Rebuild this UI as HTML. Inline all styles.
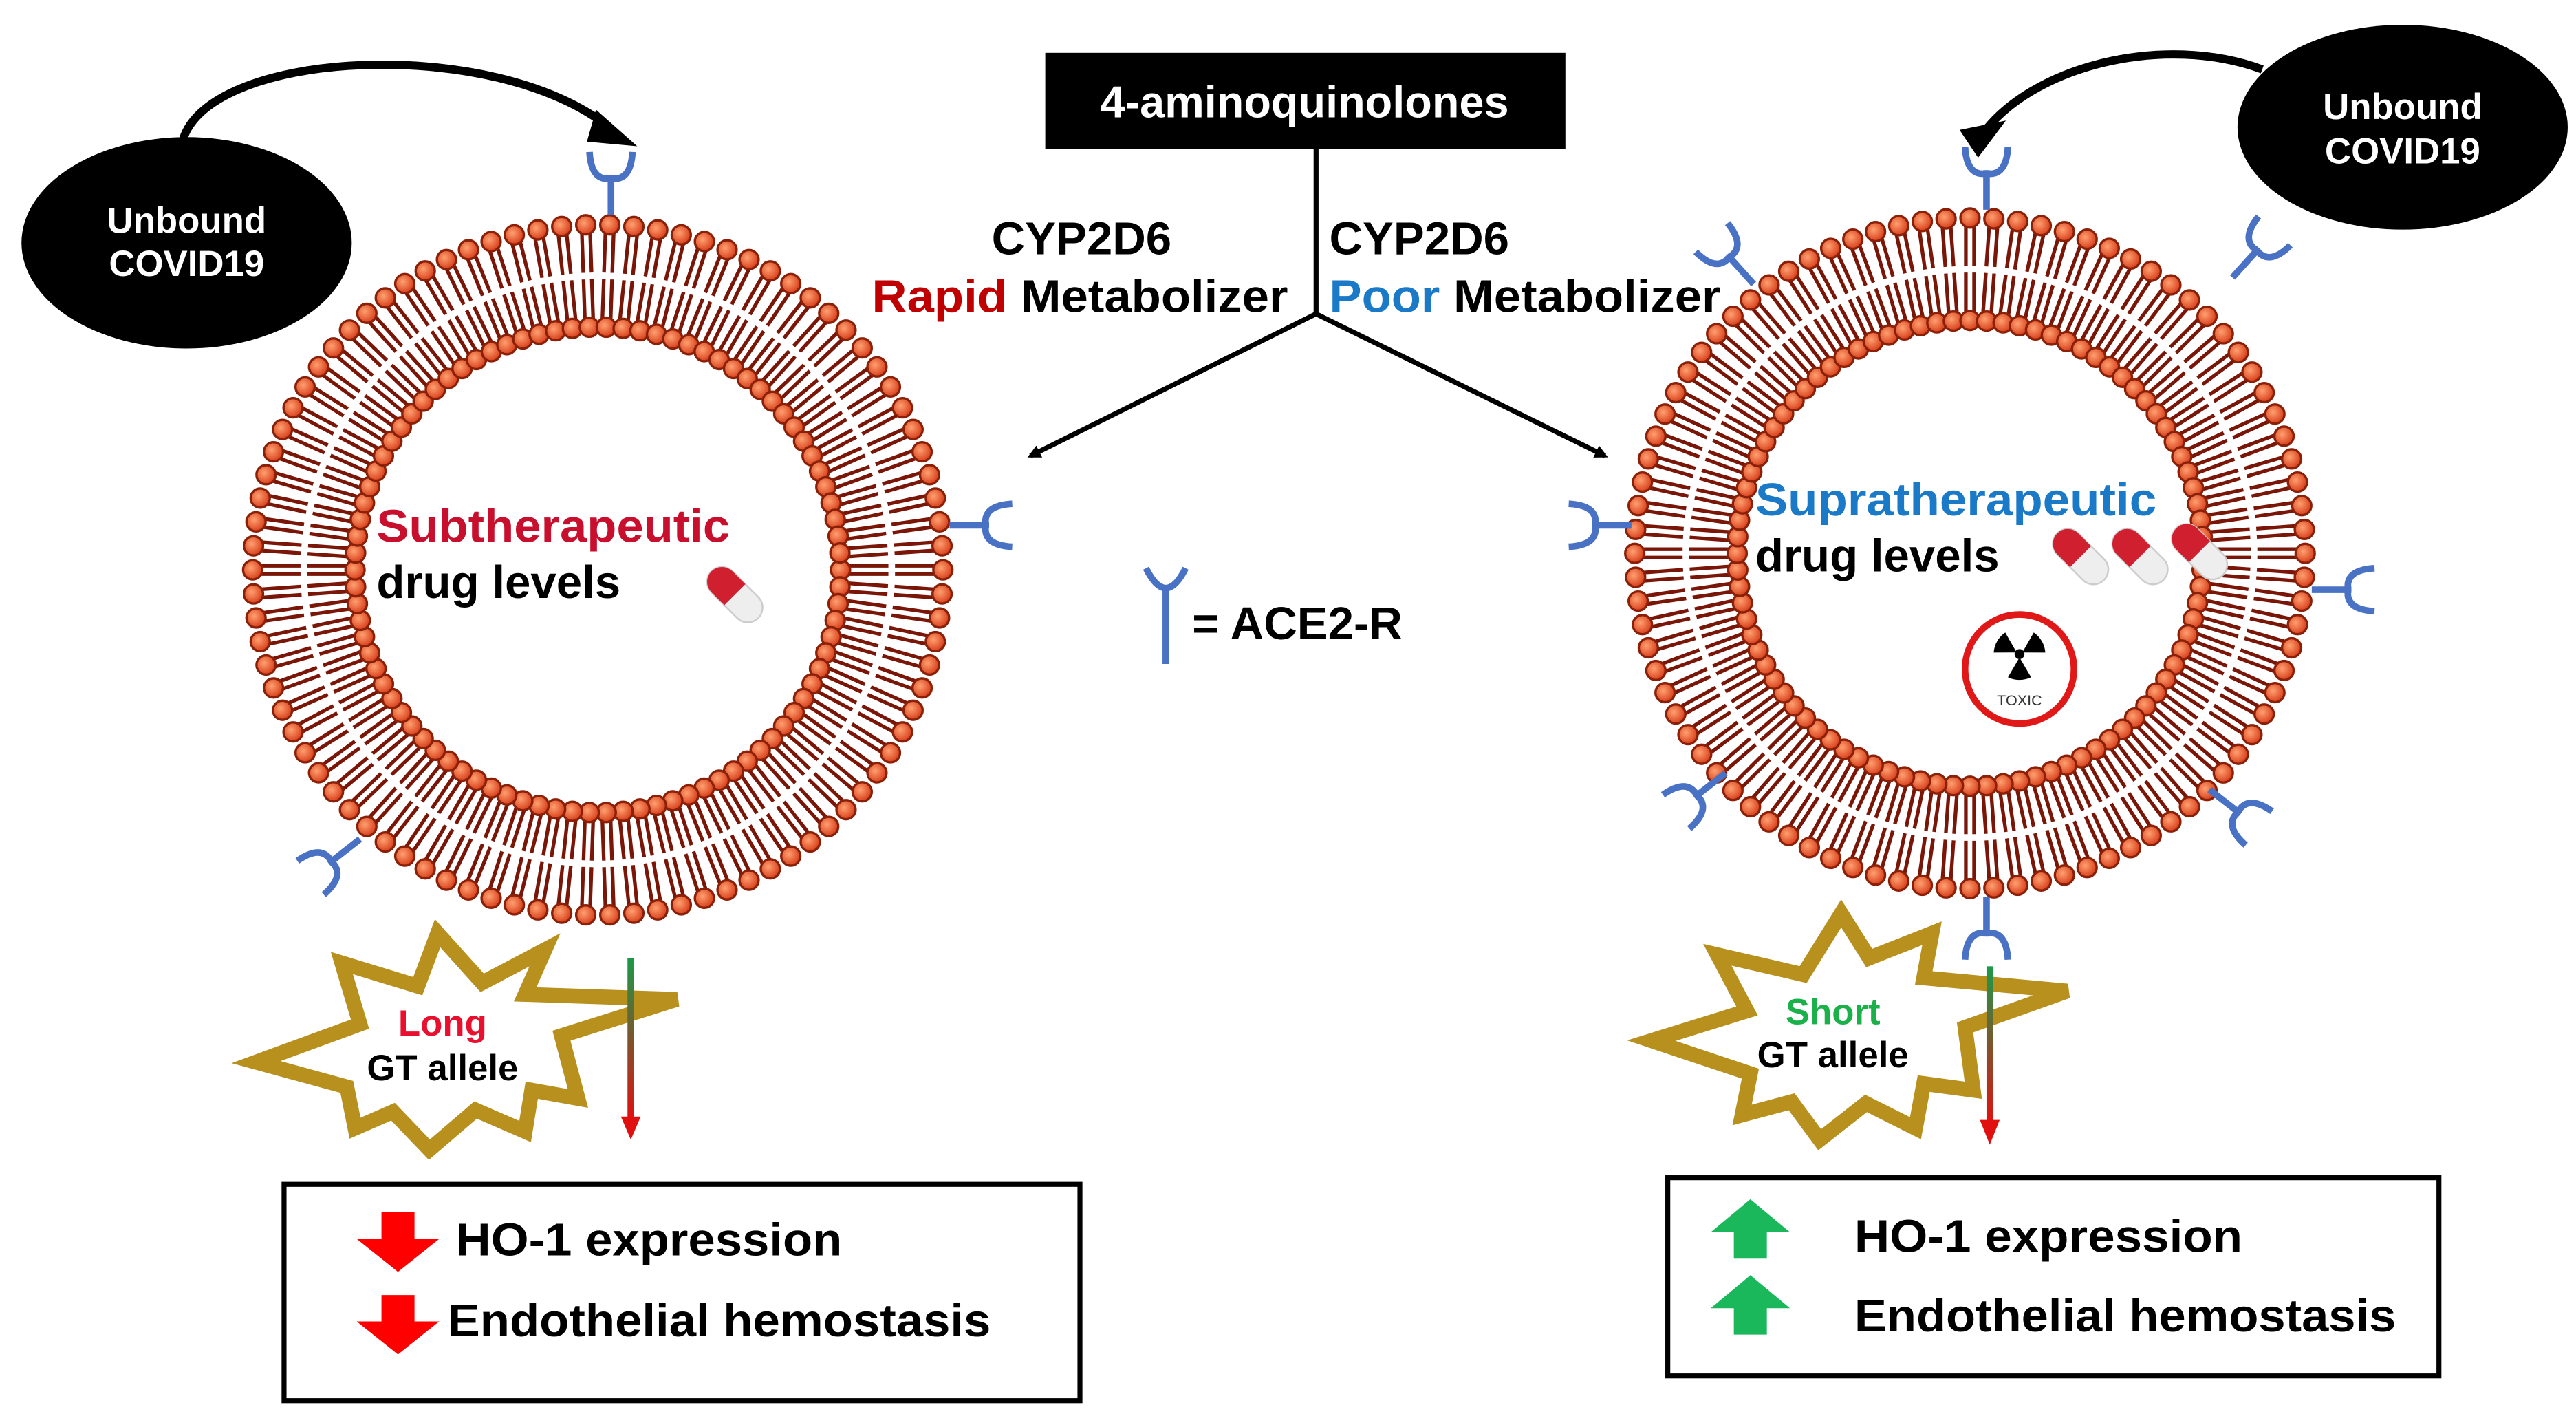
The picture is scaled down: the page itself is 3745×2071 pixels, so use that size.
<!DOCTYPE html>
<html><head><meta charset="utf-8"><style>
html,body{margin:0;padding:0;background:#fff}
svg{display:block}
text{font-family:"Liberation Sans",Arial,sans-serif;font-weight:bold}
</style></head><body>
<svg id="s" width="3745" height="2071" viewBox="0 0 1560 862.7" xmlns="http://www.w3.org/2000/svg">
<defs>
<marker id="ah" markerWidth="8" markerHeight="8" refX="6" refY="4" orient="auto" markerUnits="userSpaceOnUse"><path d="M0,0 L8,4 L0,8 Z" fill="#000"/></marker>
<linearGradient id="gr" x1="0" y1="0" x2="0" y2="1"><stop offset="0" stop-color="#1a9a4a"/><stop offset="1" stop-color="#e01010"/></linearGradient>
<radialGradient id="hd" cx="0.4" cy="0.4" r="0.6"><stop offset="0" stop-color="#ffa070"/><stop offset="1" stop-color="#d8401c"/></radialGradient>
</defs>
<g id="mem"></g>
<ellipse cx="113" cy="147" rx="100" ry="64" fill="#000"/>
<text x="113" y="141" font-size="22" fill="#fff" text-anchor="middle">Unbound</text>
<text x="113" y="167" font-size="22" fill="#fff" text-anchor="middle">COVID19</text>
<ellipse cx="1455" cy="77" rx="100" ry="62" fill="#000"/>
<text x="1455" y="72" font-size="22" fill="#fff" text-anchor="middle">Unbound</text>
<text x="1455" y="99" font-size="22" fill="#fff" text-anchor="middle">COVID19</text>
<path d="M110,88 C120,30 300,20 370,78" fill="none" stroke="#000" stroke-width="5"/>
<path d="M362,70 L380,86 L358,84 Z" fill="#000" stroke="#000" stroke-width="4"/>
<path d="M1370,42 C1310,20 1230,40 1200,82" fill="none" stroke="#000" stroke-width="5"/>
<path d="M1190,80 L1198,92 L1210,76 Z" fill="#000" stroke="#000" stroke-width="4"/>
<rect x="633" y="32" width="315" height="58" fill="#000"/>
<text x="790" y="71" font-size="27" fill="#fff" text-anchor="middle">4-aminoquinolones</text>
<line x1="797" y1="90" x2="797" y2="190" stroke="#000" stroke-width="3"/>
<line x1="797" y1="190" x2="624" y2="276" stroke="#000" stroke-width="3" marker-end="url(#ah)"/>
<line x1="797" y1="190" x2="972" y2="276" stroke="#000" stroke-width="3" marker-end="url(#ah)"/>
<text x="655" y="154" font-size="28" fill="#000" text-anchor="middle">CYP2D6</text>
<text x="528" y="189" font-size="28" fill="#c00000" textLength="252" lengthAdjust="spacingAndGlyphs">Rapid <tspan fill="#000">Metabolizer</tspan></text>
<text x="805" y="154" font-size="28" fill="#000">CYP2D6</text>
<text x="805" y="189" font-size="28" fill="#1a7ac8" textLength="237" lengthAdjust="spacingAndGlyphs">Poor <tspan fill="#000">Metabolizer</tspan></text>
<g stroke="#4a72c4" stroke-width="4" fill="none"><line x1="706" y1="356" x2="706" y2="402"/><path d="M694,344 Q706,368 718,344"/></g>
<text x="722" y="387" font-size="28" fill="#000">= ACE2-R</text>
<text x="228" y="328" font-size="28" fill="#c8102e" textLength="214" lengthAdjust="spacingAndGlyphs">Subtherapeutic</text>
<text x="228" y="362" font-size="28" fill="#000">drug levels</text>
<text x="1063" y="312" font-size="28" fill="#1a7ac8" textLength="243" lengthAdjust="spacingAndGlyphs">Supratherapeutic</text>
<text x="1063" y="346" font-size="28" fill="#000">drug levels</text>
<g id="pills"></g>
<circle cx="1223" cy="405" r="33" fill="#fff" stroke="#e01818" stroke-width="4"/>
<g fill="#000" transform="translate(1223,396)">
<circle r="3"/>
<path d="M0,-2 L-7,-14 A16,16 0 0 1 7,-14 Z" transform="rotate(60)"/>
<path d="M0,-2 L-7,-14 A16,16 0 0 1 7,-14 Z" transform="rotate(180)"/>
<path d="M0,-2 L-7,-14 A16,16 0 0 1 7,-14 Z" transform="rotate(-60)"/>
</g>
<text x="1223" y="427" font-size="9" fill="#333" text-anchor="middle" style="font-weight:normal">TOXIC</text>
<g id="stars"></g>
<text x="268" y="627" font-size="22" fill="#e8102e" text-anchor="middle">Long</text>
<text x="268" y="654" font-size="22" fill="#000" text-anchor="middle">GT allele</text>
<text x="1110" y="620" font-size="22" fill="#1ab04a" text-anchor="middle">Short</text>
<text x="1110" y="646" font-size="22" fill="#000" text-anchor="middle">GT allele</text>
<rect x="380" y="580" width="4" height="98" fill="url(#gr)"/>
<path d="M376,676 L388,676 L382,690 Z" fill="#e01010"/>
<rect x="1203" y="585" width="4" height="95" fill="url(#gr)"/>
<path d="M1199,678 L1211,678 L1205,693 Z" fill="#e01010"/>
<rect x="172" y="717" width="482" height="131" fill="#fff" stroke="#000" stroke-width="3"/>
<path d="M231,734 L251,734 L251,750 L266,750 L241,770 L216,750 L231,750 Z" fill="#f00"/>
<path d="M231,784 L251,784 L251,800 L266,800 L241,820 L216,800 L231,800 Z" fill="#f00"/>
<text x="276" y="760" font-size="28" fill="#000" textLength="234" lengthAdjust="spacingAndGlyphs">HO-1 expression</text>
<text x="271" y="809" font-size="28" fill="#000" textLength="329" lengthAdjust="spacingAndGlyphs">Endothelial hemostasis</text>
<rect x="1010" y="713" width="467" height="120" fill="#fff" stroke="#000" stroke-width="3"/>
<path d="M1050,762 L1070,762 L1070,746 L1084,746 L1060,726 L1036,746 L1050,746 Z" fill="#1ab85a"/>
<path d="M1050,808 L1070,808 L1070,792 L1084,792 L1060,772 L1036,792 L1050,792 Z" fill="#1ab85a"/>
<text x="1123" y="758" font-size="28" fill="#000" textLength="235" lengthAdjust="spacingAndGlyphs">HO-1 expression</text>
<text x="1123" y="806" font-size="28" fill="#000" textLength="328" lengthAdjust="spacingAndGlyphs">Endothelial hemostasis</text>
</svg>
<script>
var NS="http://www.w3.org/2000/svg";
function el(p,t,a){var e=document.createElementNS(NS,t);for(var k in a)e.setAttribute(k,a[k]);p.appendChild(e);return e;}
var mem=document.getElementById('mem');
function membrane(cx,cy,R,N){
  var g=el(mem,'g',{});
  for(var i=0;i<N;i++){
    var a=2*Math.PI*i/N, c=Math.cos(a), s=Math.sin(a), px=-s, py=c;
    [[R-6,R-35],[R-68,R-39]].forEach(function(r){
      var hx=cx+c*r[0], hy=cy+s*r[0], tx=cx+c*r[1], ty=cy+s*r[1];
      var d=2.5;
      el(g,'line',{x1:hx+px*d,y1:hy+py*d,x2:tx+px*d,y2:ty+py*d,stroke:'#7a1608','stroke-width':2.2});
      el(g,'line',{x1:hx-px*d,y1:hy-py*d,x2:tx-px*d,y2:ty-py*d,stroke:'#7a1608','stroke-width':2.2});
      el(g,'circle',{cx:hx,cy:hy,r:5.8,fill:'url(#hd)',stroke:'#8a2008','stroke-width':1.4});
    });
  }
}
membrane(362,345,215,90);
membrane(1193,335,209,88);
function rec(x,y,ang){
  var g=el(mem,'g',{transform:'translate('+x+','+y+') rotate('+ang+')',stroke:'#4a72c4','stroke-width':4,fill:'none'});
  el(g,'line',{x1:0,y1:0,x2:0,y2:-24});
  el(g,'path',{d:'M-13,-38 Q-12,-20 0,-22 Q12,-20 13,-38'});
}
rec(370,130,0);rec(575,318,90);rec(218,508,-128);
rec(1203,127,0);rec(1062,172,-42);rec(1352,168,42);rec(988,318,-90);rec(1400,357,90);
rec(1045,468,-128);rec(1338,478,128);rec(1203,543,180);
var pills=document.getElementById('pills');
function pill(x,y){
  var g=el(pills,'g',{transform:'translate('+x+','+y+') rotate(-45)'});
  el(g,'rect',{x:-9,y:-20,width:18,height:40,rx:9,fill:'#eee',stroke:'#ccc','stroke-width':1});
  el(g,'path',{d:'M-9,0 L-9,-11 A9,9 0 0 1 9,-11 L9,0 Z',fill:'#d02030'});
}
pill(445,360);pill(1260,337);pill(1296,337);pill(1332,334);
var stars=document.getElementById('stars');
function star(pts){
  var d='';pts.forEach(function(p,i){d+=(i?'L':'M')+p[0]+','+p[1];});
  el(stars,'path',{d:d+'Z',fill:'#fff',stroke:'#b8901e','stroke-width':9,'stroke-linejoin':'miter'});
}
star([[155,643],[218,620],[207,583],[253,597],[265,565],[292,595],[330,575],[318,602],[410,605],[340,627],[350,665],[322,660],[318,685],[288,672],[260,696],[238,673],[215,683],[210,658]]);
star([[1000,630],[1058,612],[1040,578],[1092,590],[1115,553],[1132,580],[1170,565],[1165,592],[1252,600],[1190,622],[1195,660],[1165,656],[1160,683],[1130,668],[1102,690],[1085,667],[1055,675],[1060,650]]);
</script>
</body></html>
